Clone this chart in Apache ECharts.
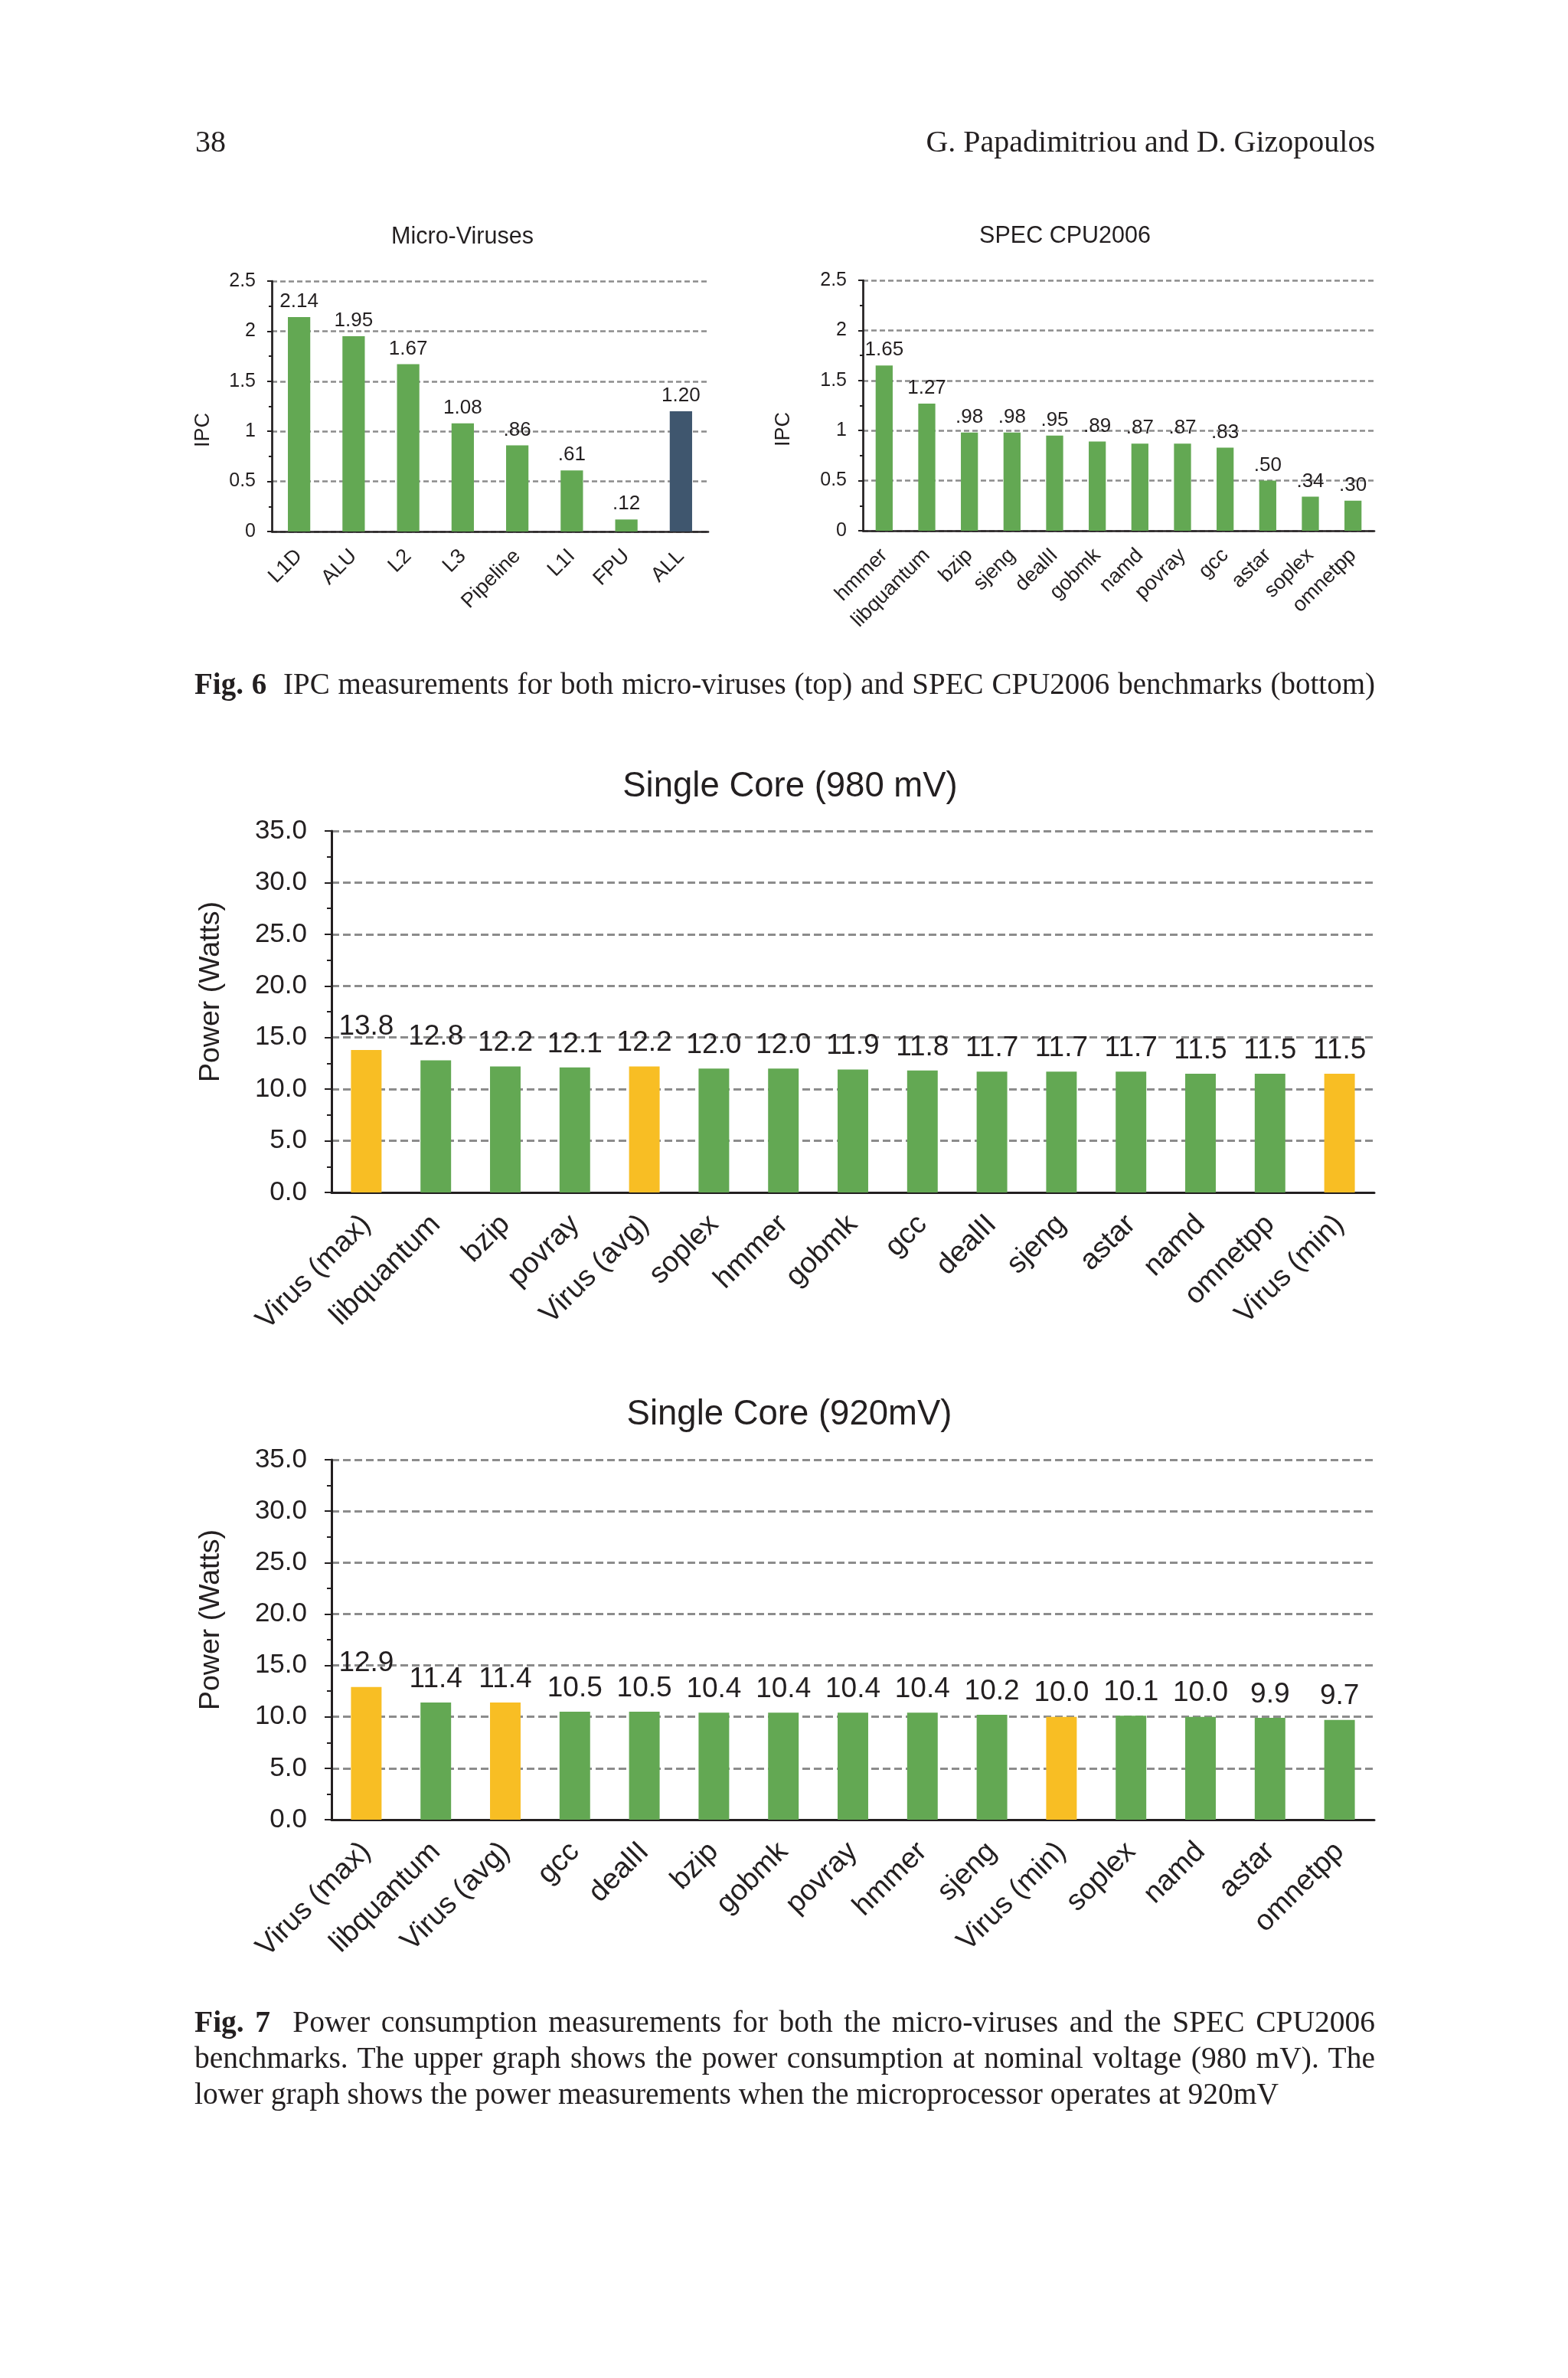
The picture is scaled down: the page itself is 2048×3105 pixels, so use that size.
<!DOCTYPE html>
<html><head><meta charset="utf-8">
<script src="https://cdn.jsdelivr.net/npm/echarts@6/dist/echarts.min.js"></script>
<style>
html,body{margin:0;padding:0;background:#fff;}
#page{position:relative;width:2048px;height:3105px;overflow:hidden;background:#fff;}
#chart{position:absolute;left:0;top:0;width:2048px;height:3105px;}
.serif{position:absolute;font-family:"Liberation Serif","Times New Roman",serif;color:#231f20;font-size:39.5px;line-height:46px;}
.jl{text-align:justify;text-align-last:justify;width:1542px;left:254px;}
</style></head><body>
<div id="page">
<div id="chart"></div>
<div class="serif" style="left:255px;top:162px;font-size:40px;">38</div>
<div class="serif" style="right:252px;top:162px;font-size:40px;">G. Papadimitriou and D. Gizopoulos</div>
<div class="serif jl" style="top:870px;font-size:39px;"><b>Fig. 6</b>&nbsp;&nbsp;IPC measurements for both micro-viruses (top) and SPEC CPU2006 benchmarks (bottom)</div>
<div class="serif jl" style="top:2617px;"><b>Fig. 7</b>&nbsp;&nbsp;Power consumption measurements for both the micro-viruses and the SPEC CPU2006</div>
<div class="serif jl" style="top:2664px;">benchmarks. The upper graph shows the power consumption at nominal voltage (980 mV). The</div>
<div class="serif" style="left:254px;top:2711px;">lower graph shows the power measurements when the microprocessor operates at 920mV</div>
</div>
<script>
// ---- data ----
const mvCats = ['L1D','ALU','L2','L3','Pipeline','L1I','FPU','ALL'];
const mvIPC = [2.14,1.95,1.67,1.08,0.86,0.61,0.12,1.20];
const specCats = ['hmmer','libquantum','bzip','sjeng','dealII','gobmk','namd','povray','gcc','astar','soplex','omnetpp'];
const specIPC = [1.65,1.27,0.98,0.98,0.95,0.89,0.87,0.87,0.83,0.50,0.34,0.30];
const p980Cats = ['Virus (max)','libquantum','bzip','povray','Virus (avg)','soplex','hmmer','gobmk','gcc','dealII','sjeng','astar','namd','omnetpp','Virus (min)'];
const p980 = [13.8,12.8,12.2,12.1,12.2,12.0,12.0,11.9,11.8,11.7,11.7,11.7,11.5,11.5,11.5];
const p920Cats = ['Virus (max)','libquantum','Virus (avg)','gcc','dealII','bzip','gobmk','povray','hmmer','sjeng','Virus (min)','soplex','namd','astar','omnetpp'];
const p920 = [12.9,11.4,11.4,10.5,10.5,10.4,10.4,10.4,10.4,10.2,10.0,10.1,10.0,9.9,9.7];
const ipcAxis = {min:0, max:2.5, interval:0.5};
const powerAxis = {min:0, max:35, interval:5};
const titles = ['Micro-Viruses','SPEC CPU2006','Single Core (980 mV)','Single Core (920mV)'];

// ---- style ----
const GREEN = '#63a853', YELLOW = '#f8be24', DARK = '#3f566e', INK = '#231f20';
const SANS = '"Liberation Sans", Arial, sans-serif';

function barColor(cat){
  if (cat === 'ALL') return DARK;
  if (cat.indexOf('Virus') === 0) return YELLOW;
  return GREEN;
}
function ipcFmt(v){ return v.toFixed(2).replace(/^0\./,'.'); }

const grids = [
  {left:355, top:367, width:570, height:327},
  {left:1127, top:366, width:668, height:327},
  {left:433, top:1085, width:1362, height:472},
  {left:433, top:1906, width:1362, height:470}
];
const small = {tick:25, val:26, cat:27, name:27, axisW:2.7, tickLen:6, minorLen:4, dash:[7,4], gridW:2.5, tickM:21, catM:28, valDist:7, namePad:[0,62,0,0]};
const big = {tick:35, val:37, cat:38, name:37.5, axisW:3, tickLen:9, minorLen:6, dash:[10,5], gridW:3, tickM:32, catM:36, valDist:12, namePad:[0,0,0,52]};
const defs = [
  {cats:mvCats, vals:mvIPC, ax:ipcAxis, s:small, bw:'41%', gap:76, name:'IPC', fmt:ipcFmt, tfmt:v=>String(v)},
  {cats:specCats, vals:specIPC, ax:ipcAxis, s:small, bw:'40%', gap:90, name:'IPC', fmt:ipcFmt, tfmt:v=>String(v)},
  {cats:p980Cats, vals:p980, ax:powerAxis, s:big, bw:'44%', gap:138, name:'Power (Watts)', fmt:v=>v.toFixed(1), tfmt:v=>v.toFixed(1)},
  {cats:p920Cats, vals:p920, ax:powerAxis, s:big, bw:'44%', gap:138, name:'Power (Watts)', fmt:v=>v.toFixed(1), tfmt:v=>v.toFixed(1)}
];

const option = {
  animation:false,
  backgroundColor:'#fff',
  grid: grids.map(g=>Object.assign({containLabel:false}, g)),
  xAxis: defs.map((d,i)=>({
    type:'category', gridIndex:i, data:d.cats,
    axisLine:{show:true, onZero:false, lineStyle:{color:INK, width:d.s.axisW}},
    axisTick:{show:false},
    axisLabel:{interval:0, rotate:45, margin:d.s.catM, fontSize:d.s.cat, fontFamily:SANS, color:INK}
  })),
  yAxis: defs.map((d,i)=>({
    type:'value', gridIndex:i, min:d.ax.min, max:d.ax.max, interval:d.ax.interval,
    name:d.name, nameLocation:'middle', nameGap:d.gap, nameRotate:90,
    nameTextStyle:{fontSize:d.s.name, fontFamily:SANS, color:INK, padding:d.s.namePad},
    axisLine:{show:true, lineStyle:{color:INK, width:d.s.axisW}},
    axisTick:{show:true, length:d.s.tickLen, lineStyle:{color:INK, width:2}},
    minorTick:{show:true, splitNumber:2, length:d.s.minorLen, lineStyle:{color:INK, width:2}},
    axisLabel:{margin:d.s.tickM, fontSize:d.s.tick, fontFamily:SANS, color:INK, formatter:d.tfmt},
    splitLine:{show:true, lineStyle:{color:'#8c8c8c', width:d.s.gridW, type:d.s.dash}}
  })),
  series: defs.map((d,i)=>({
    type:'bar', xAxisIndex:i, yAxisIndex:i, barWidth:d.bw,
    data: d.vals.map((v,j)=>({value:v, itemStyle:{color:barColor(d.cats[j])}})),
    label:{show:true, position:'top', distance:d.s.valDist, fontSize:d.s.val, fontFamily:SANS, color:INK,
      formatter:p=>d.fmt(p.value)}
  })),
  graphic: [
    {type:'text', x:604, y:310, style:{text:titles[0], font:'30.5px '+SANS, fill:INK, align:'center', verticalAlign:'middle'}},
    {type:'text', x:1391, y:309, style:{text:titles[1], font:'30.5px '+SANS, fill:INK, align:'center', verticalAlign:'middle'}},
    {type:'text', x:1032, y:1027, style:{text:titles[2], font:'45.5px '+SANS, fill:INK, align:'center', verticalAlign:'middle'}},
    {type:'text', x:1031, y:1847, style:{text:titles[3], font:'45.5px '+SANS, fill:INK, align:'center', verticalAlign:'middle'}}
  ]
};
const chart = echarts.init(document.getElementById('chart'), null, {renderer:'canvas'});
chart.setOption(option);
</script>
</body></html>
